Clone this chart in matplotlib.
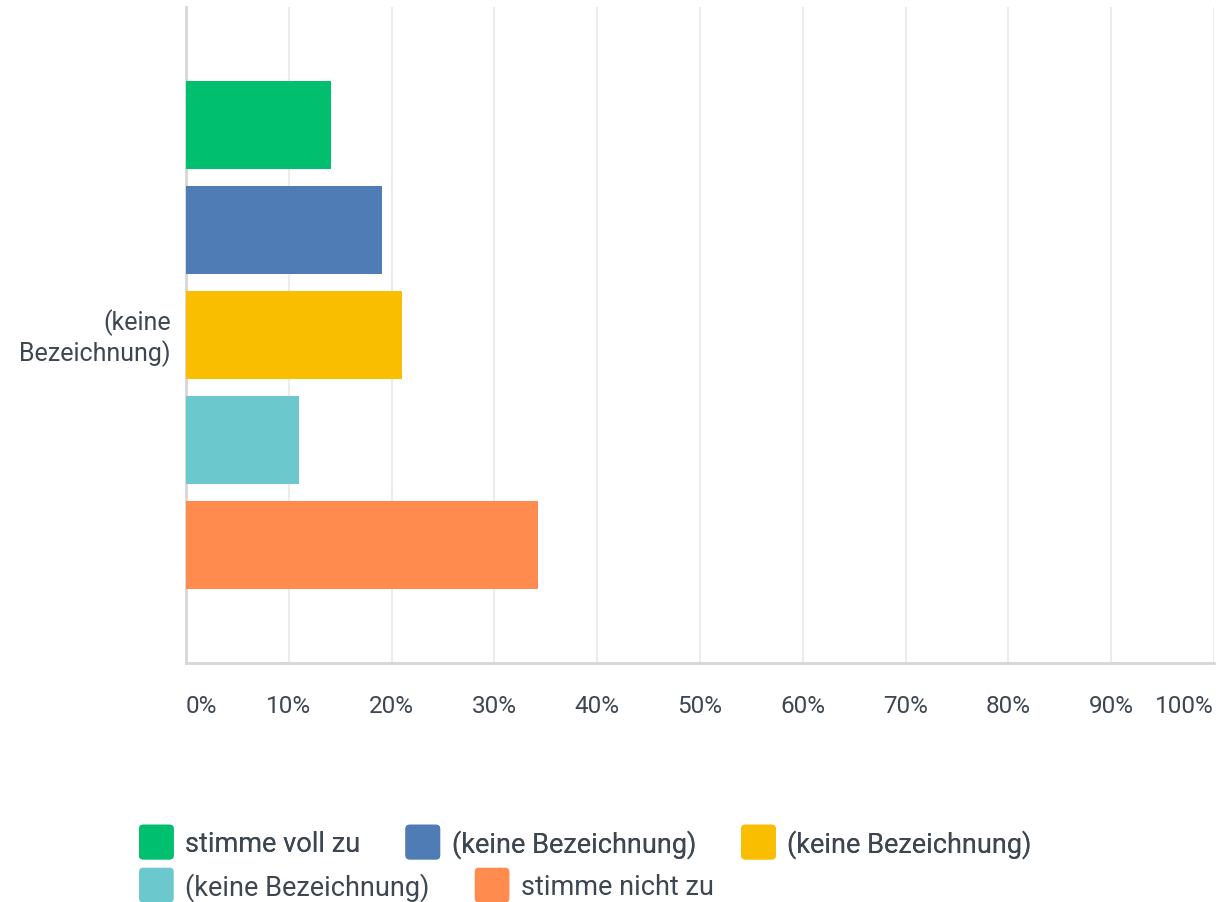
import matplotlib.pyplot as plt
from matplotlib.patches import FancyBboxPatch, Patch
from matplotlib.legend_handler import HandlerPatch
import matplotlib.ticker as mtick

# Antwortverteilung (in %)
answers = ['stimme voll zu', '(keine Bezeichnung)', '(keine Bezeichnung)',
           '(keine Bezeichnung)', 'stimme nicht zu']
shares = [14.1, 19.1, 21.0, 11.0, 34.2]
colors = ['#00bf6f', '#507cb6', '#f9be00', '#6bc8cd', '#ff8b4f']
question = '(keine\nBezeichnung)'
xticks = list(range(0, 101, 10))

plt.rcParams['font.family'] = ['Roboto', 'DejaVu Sans']
txt = '#3d4651'
fs = 17.5
lfs = 19.5

fig = plt.figure(figsize=(12.2, 9.03), dpi=100)
ax = fig.add_axes([186/1220, 1 - 664/903, (1214 - 186)/1220, (664 - 8)/903])

pos = list(range(len(shares)))
ax.barh(pos, shares, height=0.83, color=colors, zorder=3)
ax.set_ylim(5.124, -1.124)
ax.set_xlim(0, 100)

ax.set_yticks([1.97])
ax.set_yticklabels([question], fontsize=fs + 0.5, color=txt, linespacing=1.22)
ax.tick_params(axis='y', length=0, pad=11)

ax.set_xticks(xticks)
ax.xaxis.set_major_formatter(mtick.FuncFormatter(lambda x, p: f'{x:.0f}%'))
ax.tick_params(axis='x', length=0, pad=22, labelsize=fs, labelcolor=txt)
labels = ax.get_xticklabels()
labels[0].set_ha('left')
labels[-1].set_ha('right')

ax.grid(axis='x', color='#ececec', linewidth=1.5, zorder=0)
for s in ['top', 'right']:
    ax.spines[s].set_visible(False)
for s in ['left', 'bottom']:
    ax.spines[s].set_color('#d6d6d6')
    ax.spines[s].set_linewidth(2)


# abgerundete Quadrate als Legendensymbole
def box(legend, orig_handle, xdescent, ydescent, width, height, fontsize):
    side = 25
    cy = -ydescent + height / 2
    return FancyBboxPatch((-xdescent, cy - side / 2), side, side,
                          boxstyle='round,pad=0,rounding_size=3')


hm = {Patch: HandlerPatch(patch_func=box)}
handles = [Patch(facecolor=c, edgecolor='none') for c in colors]
common = dict(ncol=3, loc='upper left', frameon=False, fontsize=lfs, labelcolor=txt,
              handlelength=25 / lfs, handleheight=1.0, handletextpad=0.42,
              columnspacing=1.67, borderaxespad=0, borderpad=0, handler_map=hm)
leg1 = fig.legend(handles[:3], answers[:3],
                  bbox_to_anchor=(139/1220, 1 - 830/903), **common)
leg2 = fig.legend(handles[3:], answers[3:],
                  bbox_to_anchor=(139/1220, 1 - 873/903), **common)
fig.add_artist(leg1)

fig.savefig('out.png', dpi=100)
